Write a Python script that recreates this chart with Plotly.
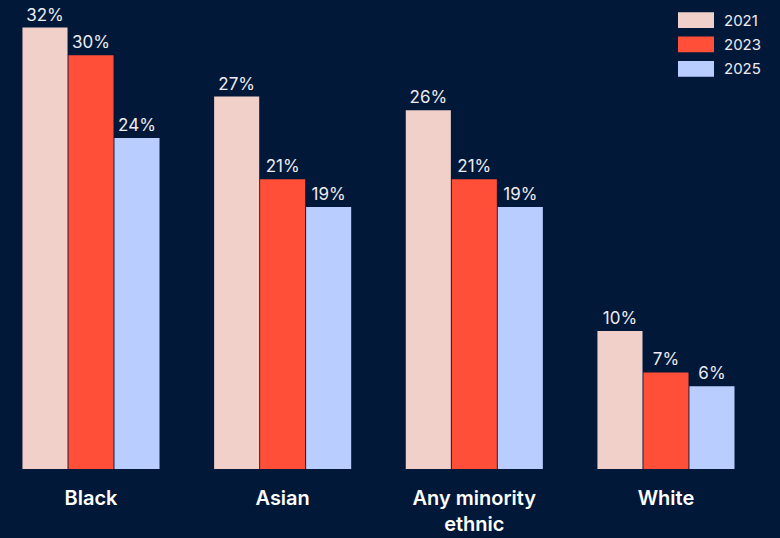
import plotly.graph_objects as go

# Share of respondents by ethnic group, per survey year
categories = ["Black", "Asian", "Any minority<br>ethnic", "White"]
years = ["2021", "2023", "2025"]
values_2021 = [32, 27, 26, 10]
values_2023 = [30, 21, 21, 7]
values_2025 = [24, 19, 19, 6]
series_values = [values_2021, values_2023, values_2025]
colors = ["#f0d0c8", "#ff4f38", "#b9ceff"]

BG = "#021839"
TEXT = "#ececf2"
FONT = "Inter"

fig = go.Figure()
for year, vals, col in zip(years, series_values, colors):
    fig.add_trace(go.Bar(
        x=categories, y=vals, name=year,
        marker=dict(color=col, line=dict(width=0)),
        text=[f"{v}%" for v in vals],
        textposition="outside",
        cliponaxis=False,
        textfont=dict(family=FONT, size=17, color=TEXT, weight=400),
        showlegend=False,
    ))

# Legend drawn as wide swatches at the top right
for i, (year, col) in enumerate(zip(years, colors)):
    y0 = 1 - (14 + 28 * i) / 538
    y1 = 1 - (32 + 28 * i) / 538
    fig.add_shape(type="rect", xref="paper", yref="paper",
                  x0=678 / 780, x1=714 / 780, y0=y1, y1=y0,
                  fillcolor=col, line=dict(width=0), layer="above")
    fig.add_annotation(xref="paper", yref="paper", x=722 / 780,
                       y=1 - (23 + 28 * i) / 538, text=year,
                       showarrow=False, xanchor="left", yanchor="middle",
                       font=dict(family=FONT, size=15, color=TEXT, weight=400))

fig.update_layout(
    width=780, height=538,
    margin=dict(l=0, r=0, t=0, b=69),
    paper_bgcolor=BG, plot_bgcolor=BG,
    barmode="group", bargap=0.28, bargroupgap=0.02,
    xaxis=dict(range=[-0.4748, 3.595], showgrid=False, zeroline=False,
               showline=False, ticks="",
               tickfont=dict(family=FONT, size=20, color="#ffffff", weight=600),
               ticklabelstandoff=15),
    yaxis=dict(range=[0, 34], visible=False),
)

fig.write_html("out.html")
